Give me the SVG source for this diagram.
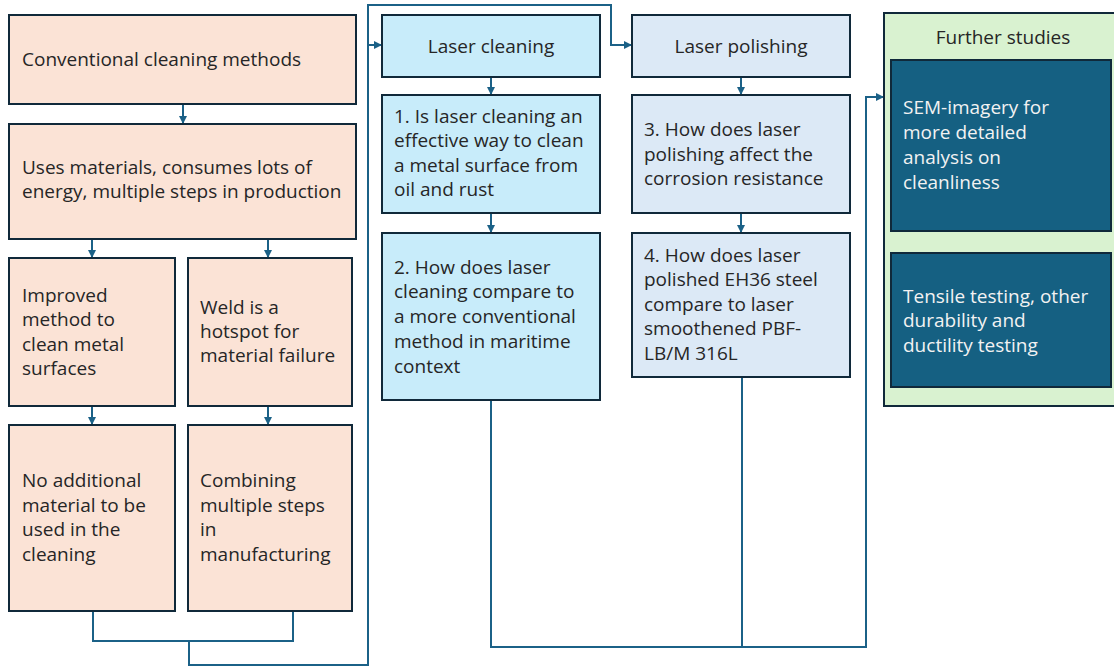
<svg xmlns="http://www.w3.org/2000/svg" width="1114" height="666" viewBox="0 0 1114 666">
<style>
.b{stroke:#10293a;stroke-width:2}
.peach{fill:#fbe3d6}
.aqua{fill:#c8ecfa}
.pale{fill:#dce9f6}
.green{fill:#d9f2d0}
.dark{fill:#156082}
text{font-family:"Open Sans","Liberation Sans",Arial,sans-serif;font-size:19px;fill:#262626}
.w{fill:#f2f2f2}
.c{stroke:#1b6187;stroke-width:2;fill:none}
</style>
<defs>
<marker id="ar" viewBox="0 0 8 8" refX="7" refY="4" markerWidth="8" markerHeight="8" markerUnits="userSpaceOnUse" orient="auto">
<path d="M0,0 L8,4 L0,8 z" fill="#1b6187"/>
</marker>
</defs>
<g id="connectors">
<line class="c" x1="183" y1="104" x2="183" y2="123" marker-end="url(#ar)"/>
<line class="c" x1="92" y1="239" x2="92" y2="257" marker-end="url(#ar)"/>
<line class="c" x1="268" y1="239" x2="268" y2="257" marker-end="url(#ar)"/>
<line class="c" x1="92" y1="406" x2="92" y2="424" marker-end="url(#ar)"/>
<line class="c" x1="268" y1="406" x2="268" y2="424" marker-end="url(#ar)"/>
<polyline class="c" points="93,611 93,641 293,641 293,611"/>
<polyline class="c" points="189,641 189,665 368,665 368,5 611,5 611,45 631,45" marker-end="url(#ar)"/>
<line class="c" x1="368" y1="45" x2="381" y2="45" marker-end="url(#ar)"/>
<line class="c" x1="491" y1="77" x2="491" y2="94" marker-end="url(#ar)"/>
<line class="c" x1="491" y1="213" x2="491" y2="232" marker-end="url(#ar)"/>
<line class="c" x1="741" y1="77" x2="741" y2="94" marker-end="url(#ar)"/>
<line class="c" x1="741" y1="213" x2="741" y2="232" marker-end="url(#ar)"/>
<polyline class="c" points="491,400 491,647 866,647 866,97 883,97" marker-end="url(#ar)"/>
<line class="c" x1="742" y1="377" x2="742" y2="647"/>
<line class="c" x1="1000" y1="231" x2="1000" y2="252" marker-end="url(#ar)"/>
</g>
<g id="n1"><rect class="b peach" x="9" y="15" width="347" height="89"/>
<text x="22" y="66">Conventional cleaning methods</text></g>
<g id="n2"><rect class="b peach" x="9" y="124" width="347" height="115"/>
<text x="22" y="174">Uses materials, consumes lots of</text>
<text x="22" y="198">energy, multiple steps in production</text></g>
<g id="n3"><rect class="b peach" x="9" y="258" width="166" height="148"/>
<text x="22" y="302">Improved</text><text x="22" y="326">method to</text><text x="22" y="351">clean metal</text><text x="22" y="375">surfaces</text></g>
<g id="n4"><rect class="b peach" x="188" y="258" width="164" height="148"/>
<text x="200" y="314">Weld is a</text><text x="200" y="338">hotspot for</text><text x="200" y="362">material failure</text></g>
<g id="n5"><rect class="b peach" x="9" y="425" width="166" height="186"/>
<text x="22" y="487">No additional</text><text x="22" y="512">material to be</text><text x="22" y="536">used in the</text><text x="22" y="561">cleaning</text></g>
<g id="n6"><rect class="b peach" x="188" y="425" width="164" height="186"/>
<text x="200" y="487">Combining</text><text x="200" y="512">multiple steps</text><text x="200" y="536">in</text><text x="200" y="561">manufacturing</text></g>
<g id="lc"><rect class="b aqua" x="382" y="15" width="218" height="62"/>
<text x="491" y="53" text-anchor="middle">Laser cleaning</text></g>
<g id="q1"><rect class="b aqua" x="382" y="95" width="218" height="118"/>
<text x="394" y="123">1. Is laser cleaning an</text><text x="394" y="147">effective way to clean</text><text x="394" y="172">a metal surface from</text><text x="394" y="196">oil and rust</text></g>
<g id="q2"><rect class="b aqua" x="382" y="233" width="218" height="167"/>
<text x="394" y="274">2. How does laser</text><text x="394" y="298">cleaning compare to</text><text x="394" y="323">a more conventional</text><text x="394" y="348">method in maritime</text><text x="394" y="373">context</text></g>
<g id="lp"><rect class="b pale" x="632" y="15" width="218" height="62"/>
<text x="741" y="53" text-anchor="middle">Laser polishing</text></g>
<g id="q3"><rect class="b pale" x="632" y="95" width="218" height="118"/>
<text x="644" y="136">3. How does laser</text><text x="644" y="161">polishing affect the</text><text x="644" y="185">corrosion resistance</text></g>
<g id="q4"><rect class="b pale" x="632" y="233" width="218" height="144"/>
<text x="644" y="262">4. How does laser</text><text x="644" y="286">polished EH36 steel</text><text x="644" y="311">compare to laser</text><text x="644" y="335">smoothened PBF-</text><text x="644" y="360">LB/M 316L</text></g>
<g id="fs"><rect class="b green" x="884" y="13" width="232" height="393"/>
<text x="1003" y="44" text-anchor="middle">Further studies</text></g>
<g id="sem"><rect class="b dark" x="891" y="60" width="220" height="171"/>
<text class="w" x="903" y="114">SEM-imagery for</text><text class="w" x="903" y="139">more detailed</text><text class="w" x="903" y="164">analysis on</text><text class="w" x="903" y="189">cleanliness</text></g>
<g id="ten"><rect class="b dark" x="891" y="253" width="220" height="134"/>
<text class="w" x="903" y="303">Tensile testing, other</text><text class="w" x="903" y="327">durability and</text><text class="w" x="903" y="352">ductility testing</text></g>
</svg>
